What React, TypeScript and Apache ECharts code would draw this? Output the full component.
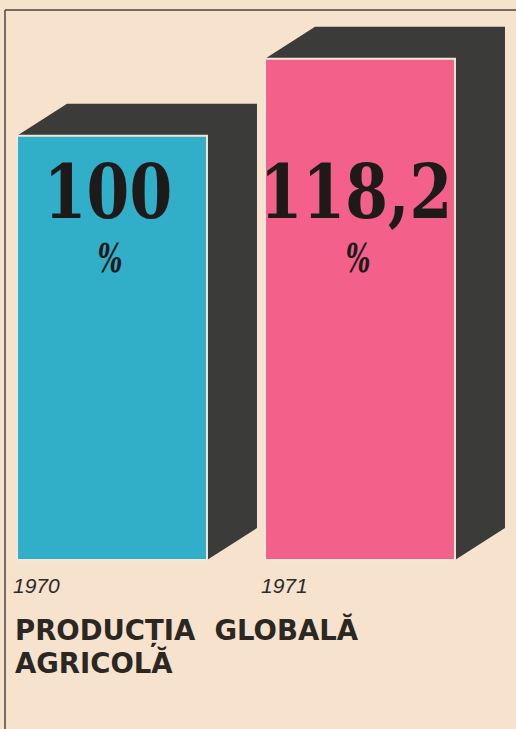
import React, { useEffect, useRef } from "react";
import * as echarts from "echarts";

const years = ["1970", "1971"];
const values = [100, 118.2];
const barColors = ["#31afc8", "#f3618b"];
const titleLines = ["PRODUCȚIA  GLOBALĂ", "AGRICOLĂ"];

export default function App() {
  const ref = useRef<HTMLDivElement>(null);
  useEffect(() => {
    if (!ref.current) return;
    const chart = echarts.init(ref.current, undefined, { renderer: "svg" });
    const dx = 50;
    const dy = -32;
    chart.setOption({
      animation: false,
      backgroundColor: "#f6e2cd",
      title: {
        text: titleLines.join("\n"),
        left: 15,
        top: 613,
        padding: 0,
        textStyle: {
          fontFamily: "DejaVu Sans",
          fontWeight: "bold",
          fontSize: 27.5,
          lineHeight: 33,
          color: "#2b2723",
        },
      },
      grid: { left: 112, width: 248, top: 51, bottom: 169 },
      xAxis: { type: "category", data: years, boundaryGap: false, show: false },
      yAxis: { type: "value", min: 0, max: 120, show: false },
      graphic: [
        { type: "line", shape: { x1: 5, y1: 10, x2: 516, y2: 10 }, style: { stroke: "#4a4540", lineWidth: 1.5 } },
        { type: "line", shape: { x1: 5, y1: 10, x2: 5, y2: 729 }, style: { stroke: "#4a4540", lineWidth: 1.5 } },
      ],
      series: [
        {
          type: "custom",
          data: values.map((v, i) => [i, v]),
          encode: { x: 0, y: 1 },
          renderItem: (params: any, api: any) => {
            const xi = api.value(0);
            const v = api.value(1);
            const top = api.coord([xi, v]);
            const base = api.coord([xi, 0]);
            const hw = api.size([1, 0])[0] * 0.383;
            const fl = top[0] - hw;
            const fr = top[0] + hw;
            const ft = top[1];
            const fb = base[1];
            const cx = top[0];
            const label = String(v).replace(".", ",");
            return {
              type: "group",
              children: [
                {
                  type: "polygon",
                  shape: {
                    points: [
                      [fl, ft],
                      [fl + dx, ft + dy],
                      [fr + dx, ft + dy],
                      [fr + dx, fb + dy],
                      [fr, fb],
                      [fr, ft],
                    ],
                  },
                  style: { fill: "#3b3b39" },
                },
                {
                  type: "rect",
                  shape: { x: fl, y: ft, width: fr - fl, height: fb - ft },
                  style: { fill: barColors[params.dataIndex], stroke: "#f1e6d8", lineWidth: 2 },
                },
                {
                  type: "text",
                  x: cx - 4,
                  y: fb - 368,
                  scaleX: 0.82,
                  style: {
                    text: label,
                    fontFamily: "DejaVu Serif",
                    fontWeight: "bold",
                    fontSize: 75,
                    fill: "#1e1a1a",
                    align: "center",
                    verticalAlign: "middle",
                  },
                },
                {
                  type: "text",
                  x: cx - 2,
                  y: fb - 302,
                  scaleX: 0.65,
                  style: {
                    text: "%",
                    fontFamily: "DejaVu Serif",
                    fontWeight: "bold",
                    fontStyle: "italic",
                    fontSize: 40,
                    fill: "#1e1a1a",
                    align: "center",
                    verticalAlign: "middle",
                  },
                },
                {
                  type: "text",
                  x: fl - 4,
                  y: fb + 25,
                  style: {
                    text: years[params.dataIndex],
                    fontFamily: "Liberation Sans",
                    fontStyle: "italic",
                    fontSize: 21,
                    fill: "#2a2a2a",
                    align: "left",
                    verticalAlign: "middle",
                  },
                },
              ],
            };
          },
        },
      ],
    });
    return () => chart.dispose();
  }, []);
  return (
    <div
      ref={ref}
      style={{ position: "fixed", left: 0, top: 0, width: 516, height: 729 }}
    />
  );
}
